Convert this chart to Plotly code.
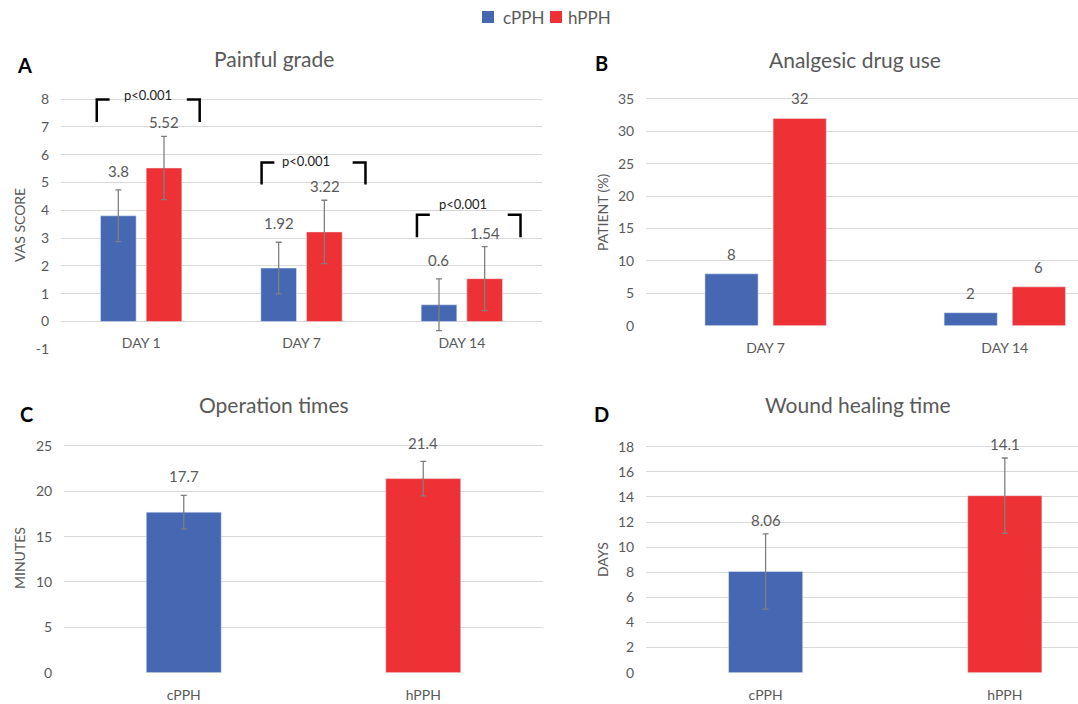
import plotly.graph_objects as go

# ---------------- data ----------------
series_names = ["cPPH", "hPPH"]

pain_days = ["DAY 1", "DAY 7", "DAY 14"]
pain_cpph = [3.8, 1.92, 0.6]
pain_hpph = [5.52, 3.22, 1.54]
pain_cpph_sd = [0.93, 0.93, 0.93]
pain_hpph_sd = [1.14, 1.14, 1.15]
pain_p_text = ["p<0.001", "p<0.001", "p<0.001"]
pain_yticks = [-1, 0, 1, 2, 3, 4, 5, 6, 7, 8]

drug_days = ["DAY 7", "DAY 14"]
drug_cpph = [8, 2]
drug_hpph = [32, 6]
drug_yticks = [0, 5, 10, 15, 20, 25, 30, 35]

op_groups = ["cPPH", "hPPH"]
op_values = [17.7, 21.4]
op_sd = [1.85, 1.9]
op_yticks = [0, 5, 10, 15, 20, 25]

heal_groups = ["cPPH", "hPPH"]
heal_values = [8.06, 14.1]
heal_sd = [3.0, 3.0]
heal_yticks = [0, 2, 4, 6, 8, 10, 12, 14, 16, 18]

# significance brackets (panel A), in axis units relative to group index
br_left = [-0.277, -0.249, -0.28]
br_right = [0.365, 0.399, 0.366]
br_top = [7.98, 5.72, 3.84]
br_bottom = [7.17, 4.93, 3.03]
br_text_y = [8.16, 5.76, 4.21]
br_text_dx = [0.042, 0.03, 0.007]
br_serif = 0.08

# ---------------- style ----------------
W, H = 1078, 704
BLUE = "#4668B2"
RED = "#EE3135"
GREY = "#595959"
GRID = "#D9D9D9"
ERR = "#7F7F7F"
FONT = "Lato"


def px(x):
    return x / W


def py(y):
    return (H - y) / H


err_style = dict(type="data", color=ERR, thickness=1.3, width=3, visible=True)

fig = go.Figure()

# Panel A
fig.add_trace(go.Bar(x=list(range(len(pain_days))), y=pain_cpph, name=series_names[0],
                     marker_color=BLUE, showlegend=False,
                     error_y=dict(array=pain_cpph_sd, **err_style), xaxis="x", yaxis="y"))
fig.add_trace(go.Bar(x=list(range(len(pain_days))), y=pain_hpph, name=series_names[1],
                     marker_color=RED, showlegend=False,
                     error_y=dict(array=pain_hpph_sd, **err_style), xaxis="x", yaxis="y"))
# Panel B
fig.add_trace(go.Bar(x=list(range(len(drug_days))), y=drug_cpph, name=series_names[0],
                     marker_color=BLUE, showlegend=False,
                     xaxis="x2", yaxis="y2"))
fig.add_trace(go.Bar(x=list(range(len(drug_days))), y=drug_hpph, name=series_names[1],
                     marker_color=RED, showlegend=False,
                     xaxis="x2", yaxis="y2"))
# Panel C
fig.add_trace(go.Bar(x=list(range(len(op_groups))), y=op_values, width=0.313,
                     marker_color=[BLUE, RED], showlegend=False,
                     error_y=dict(array=op_sd, **err_style), xaxis="x3", yaxis="y3"))
# Panel D
fig.add_trace(go.Bar(x=list(range(len(heal_groups))), y=heal_values, width=0.31,
                     marker_color=[BLUE, RED], showlegend=False,
                     error_y=dict(array=heal_sd, **err_style), xaxis="x4", yaxis="y4"))

annotations = []
shapes = []


def lab(x, y, xref, yref, text, xshift, yshift, size=15):
    annotations.append(dict(x=x, y=y, xref=xref, yref=yref, text=text, showarrow=False,
                            xshift=xshift, yshift=yshift,
                            font=dict(family=FONT, size=size, color=GREY)))


# value labels
for i, v in enumerate(pain_cpph):
    lab(i, v, "x", "y", f"{v:g}", -23, 45)
for i, v in enumerate(pain_hpph):
    lab(i, v, "x", "y", f"{v:g}", 23, 46)
for i, v in enumerate(drug_cpph):
    lab(i, v, "x2", "y2", f"{v:g}", -34, 20)
for i, v in enumerate(drug_hpph):
    lab(i, v, "x2", "y2", f"{v:g}", 34, 20)
for i, v in enumerate(op_values):
    lab(i, v, "x3", "y3", f"{v:g}", 0, 36)
for i, v in enumerate(heal_values):
    lab(i, v, "x4", "y4", f"{v:g}", 0, 52)

# brackets
for i in range(len(pain_days)):
    l, r = i + br_left[i], i + br_right[i]
    t, b = br_top[i], br_bottom[i]
    line = dict(color="black", width=2.5)
    shapes.append(dict(type="path", xref="x", yref="y",
                       path=f"M {l},{b} L {l},{t} L {l + br_serif},{t}", line=line))
    shapes.append(dict(type="path", xref="x", yref="y",
                       path=f"M {r - br_serif},{t} L {r},{t} L {r},{b}", line=line))
    annotations.append(dict(x=i + br_text_dx[i], y=br_text_y[i], xref="x", yref="y",
                            text=pain_p_text[i], showarrow=False,
                            font=dict(family=FONT, size=13, color="#222222")))

# manual legend
for name, color, sx, tx in [(series_names[0], BLUE, 482, 501), (series_names[1], RED, 550, 566)]:
    shapes.append(dict(type="rect", xref="paper", yref="paper",
                       x0=px(sx), x1=px(sx + 12), y0=py(23), y1=py(11),
                       fillcolor=color, line=dict(width=0)))
    annotations.append(dict(x=px(tx), y=py(17), xref="paper", yref="paper", text=name,
                            showarrow=False, xanchor="left", yanchor="middle",
                            font=dict(family=FONT, size=17, color=GREY)))

# titles, letters, axis titles
for text, x, y in [("Painful grade", 274, 58), ("Analgesic drug use", 855, 59),
                   ("Operation times", 274, 405), ("Wound healing time", 858, 405)]:
    annotations.append(dict(x=px(x), y=py(y), xref="paper", yref="paper", text=text,
                            showarrow=False, xanchor="center", yanchor="middle",
                            font=dict(family=FONT, size=21, color=GREY)))
for text, x, y in [("A", 24, 65), ("B", 601, 63), ("C", 26, 414), ("D", 601, 414)]:
    annotations.append(dict(x=px(x), y=py(y), xref="paper", yref="paper", text=f"<b>{text}</b>",
                            showarrow=False, xanchor="center", yanchor="middle",
                            font=dict(family=FONT, size=20, color="black")))
for text, x, y in [("VAS SCORE", 19, 225), ("PATIENT (%)", 602, 212),
                   ("MINUTES", 19, 558), ("DAYS", 602, 560)]:
    annotations.append(dict(x=px(x), y=py(y), xref="paper", yref="paper", text=text,
                            showarrow=False, textangle=-90, xanchor="center", yanchor="middle",
                            font=dict(family=FONT, size=14, color=GREY)))

tickfont = dict(family=FONT, size=14, color=GREY)


def xax(domain, labels, rng, **kw):
    d = dict(domain=domain, range=rng, tickmode="array", tickvals=list(range(len(labels))),
             ticktext=labels, showgrid=False, zeroline=False, showline=False,
             ticks="outside", ticklen=9, tickcolor="rgba(0,0,0,0)",
             tickfont=tickfont, fixedrange=True)
    d.update(kw)
    return d


def yax(domain, ticks, rng):
    return dict(domain=domain, range=rng, tickmode="array", tickvals=ticks,
                ticktext=[str(t) for t in ticks],
                showgrid=True, gridcolor=GRID, gridwidth=1, zeroline=False, showline=False,
                ticks="outside", ticklen=8, tickcolor="rgba(0,0,0,0)",
                tickfont=tickfont, fixedrange=True)


fig.update_layout(
    width=W, height=H, margin=dict(l=0, r=0, t=0, b=0, autoexpand=False),
    paper_bgcolor="white", plot_bgcolor="white",
    barmode="group", bargap=0.43, bargroupgap=0.22,
    font=dict(family=FONT, color=GREY),
    showlegend=False,
    xaxis=xax([px(61), px(542)], pain_days, [-0.5, 2.5], anchor="free", position=py(321)),
    yaxis=yax([py(349.3), py(90.7)], pain_yticks, [-1, 8.3]),
    xaxis2=xax([px(646), px(1078)], drug_days, [-0.5, 1.306], anchor="y2"),
    yaxis2=yax([py(325.7), py(97)], drug_yticks, [0, 35.3]),
    xaxis3=xax([px(64), px(543)], op_groups, [-0.5, 1.5], anchor="y3"),
    yaxis3=yax([py(672.7), py(443.2)], op_yticks, [0, 25.3]),
    xaxis4=xax([px(646), px(1078)], heal_groups, [-0.5, 1.306], anchor="y4"),
    yaxis4=yax([py(672.7), py(444.2)], heal_yticks, [0, 18.2]),
    annotations=annotations, shapes=shapes,
)
fig.update_layout(yaxis=dict(anchor="x"), yaxis2=dict(anchor="x2"),
                  yaxis3=dict(anchor="x3"), yaxis4=dict(anchor="x4"))

fig.write_html("out.html", config={"displayModeBar": False},
               post_script="document.body.style.margin='0px';document.body.style.padding='0px';")
